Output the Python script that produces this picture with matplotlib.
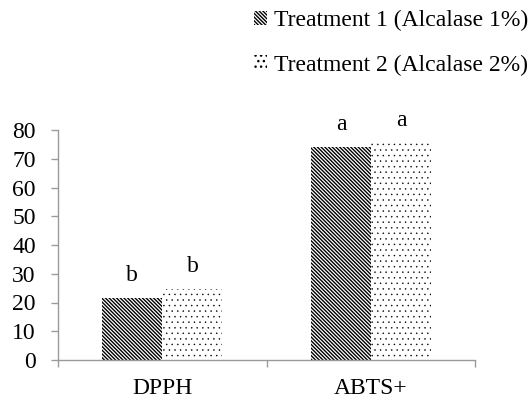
import matplotlib.pyplot as plt
from matplotlib.patches import Patch
import numpy as np

categories = ['DPPH', 'ABTS+']
treatment1 = [21.6, 74.1]
treatment2 = [24.7, 75.5]
letters1 = ['b', 'a']
letters2 = ['b', 'a']
labels = ['Treatment 1 (Alcalase 1%)', 'Treatment 2 (Alcalase 2%)']

plt.rcParams['font.family'] = ['Liberation Serif', 'DejaVu Serif']
plt.rcParams['hatch.color'] = 'black'

fs = 17
grey = '#9a9a9a'

fig = plt.figure(figsize=(5.28, 4.0), dpi=100)
ax = fig.add_axes((0.110, 0.10, 0.790, 0.575))

x = np.arange(len(categories))
w = 0.288
hatch1 = '\\' * 9
hatch2 = '...'
with plt.rc_context({'hatch.linewidth': 1.0}):
    ax.bar(x - w / 2, treatment1, w, color='white', edgecolor='black', linewidth=0, hatch=hatch1)
    h1 = Patch(facecolor='white', edgecolor='black', linewidth=0, hatch=hatch1)
with plt.rc_context({'hatch.linewidth': 0.3}):
    ax.bar(x + w / 2, treatment2, w, color='white', edgecolor='black', linewidth=0, hatch=hatch2)
    h2 = Patch(facecolor='white', edgecolor='black', linewidth=0, hatch=hatch2)

for i in range(len(categories)):
    ax.text(x[i] - w / 2, treatment1[i] + 7.8, letters1[i], ha='center', va='center', fontsize=fs)
    ax.text(x[i] + w / 2, treatment2[i] + 7.8, letters2[i], ha='center', va='center', fontsize=fs)

ax.set_xlim(-0.5, 1.5)
ax.set_ylim(0, 80)
ax.set_yticks(range(0, 81, 10))
ax.set_xticks(x)
ax.set_xticklabels(categories)
ax.set_xticks([-0.5, 0.5, 1.5], minor=True)

for s in ['top', 'right']:
    ax.spines[s].set_visible(False)
for s in ['left', 'bottom']:
    ax.spines[s].set_color(grey)
    ax.spines[s].set_linewidth(1.0)

ax.tick_params(axis='y', length=5, width=1.0, color=grey, pad=11, labelsize=fs)
ax.tick_params(axis='x', which='major', length=0, pad=13, labelsize=fs)
ax.tick_params(axis='x', which='minor', length=5, width=1.0, color=grey)

fig.legend([h1, h2], labels, loc='upper right', bbox_to_anchor=(1.0, 0.975), frameon=False,
           fontsize=fs, handlelength=0.55, handleheight=0.55, handletextpad=0.3,
           labelspacing=1.0, borderpad=0.0, borderaxespad=0.0)

fig.savefig('out.png', dpi=100)
